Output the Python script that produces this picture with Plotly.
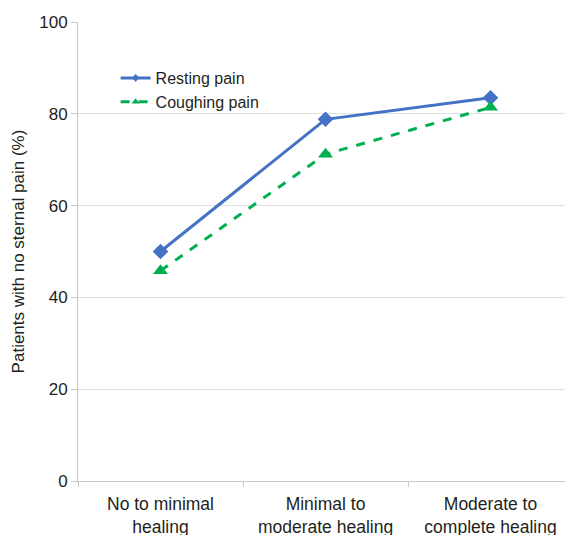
import plotly.graph_objects as go

categories = ["No to minimal<br>healing", "Minimal to<br>moderate healing", "Moderate to<br>complete healing"]
resting_pain = [50.0, 78.8, 83.5]
coughing_pain = [45.8, 71.2, 81.4]
y_ticks = [0, 20, 40, 60, 80, 100]

FONT = "Liberation Sans, Arial, Helvetica, sans-serif"
BLUE = "#4472C4"
GREEN = "#00B050"

fig = go.Figure()
fig.add_trace(go.Scatter(
    x=categories, y=resting_pain, name="Resting pain", mode="lines+markers",
    line=dict(color=BLUE, width=3),
    marker=dict(symbol="diamond", size=12, color=BLUE), showlegend=False,
))
fig.add_trace(go.Scatter(
    x=categories, y=coughing_pain, name="Coughing pain", mode="lines+markers",
    line=dict(color=GREEN, width=3, dash="dash"),
    marker=dict(symbol="triangle-up", size=13, color=GREEN), showlegend=False,
))
# legend entries with small markers, as in the reference
fig.add_trace(go.Scatter(
    x=[None], y=[None], name="Resting pain", mode="lines+markers",
    line=dict(color=BLUE, width=3), marker=dict(symbol="diamond", size=6, color=BLUE),
))
fig.add_trace(go.Scatter(
    x=[None], y=[None], name="Coughing pain", mode="lines+markers",
    line=dict(color=GREEN, width=3, dash="dash"), marker=dict(symbol="triangle-up", size=7, color=GREEN),
))

# page body has an 8px margin, so the figure starts at (8, 8)
fig.update_layout(
    width=565, height=527,
    margin=dict(l=70, r=0, t=14, b=54),
    paper_bgcolor="white", plot_bgcolor="white",
    font=dict(family=FONT, size=17, color="#231f20"),
    showlegend=True,
    legend=dict(x=0.076, y=0.915, xanchor="left", yanchor="top",
                bgcolor="rgba(0,0,0,0)", font=dict(size=16), tracegroupgap=0,
                itemwidth=30),
)
fig.update_xaxes(
    type="category", range=[-0.5, 2.5], showgrid=False, showline=True,
    linecolor="#c8c8c8", linewidth=1,
    ticks="outside", tickson="boundaries", ticklen=5, tickcolor="#c8c8c8",
    tickfont=dict(size=17.5), zeroline=False, automargin=False,
    ticklabelstandoff=7,
)
fig.update_yaxes(
    range=[0, 100], tickvals=y_ticks, showgrid=True, gridcolor="#e0e0e0", gridwidth=1,
    showline=True, linecolor="#c8c8c8", linewidth=1, ticks="outside", ticklen=6,
    tickcolor="#c8c8c8", tickfont=dict(size=17), zeroline=False, automargin=False,
    title=dict(text="Patients with no sternal pain (%)", font=dict(size=17), standoff=10),
)

fig.write_html("out.html")
